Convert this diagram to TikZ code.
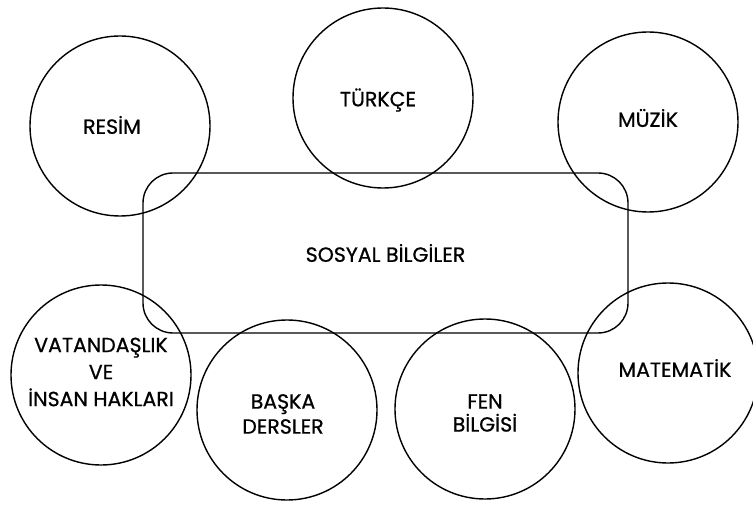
\documentclass[tikz,border=0pt]{standalone}
\usepackage{fontspec}
\setmainfont{Poppins}[FakeBold=0.8]
\begin{document}
\begin{tikzpicture}[x=1pt, y=-1pt, thick,
  ders/.style={circle, draw, line width=1.4pt, minimum size=180pt, inner sep=0pt},
  ana/.style={rounded corners=30pt, draw, line width=1.4pt, minimum width=485pt, minimum height=160pt, font=\fontsize{20.5}{25}\selectfont}]
\useasboundingbox (0,0) rectangle (753,505);
% ortadaki ders
\node[ana] (sosyal) at (385.5,253) {SOSYAL BİLGİLER};
% cevredeki dersler
\node[ders] (resim) at (120,126) {};
\node (resimyazi) at (112,125) [font=\fontsize{20.5}{25}\selectfont] {RESİM};
\node[ders] (turkce) at (383,98) {};
\node (turkceyazi) at (378,100) [font=\fontsize{20.5}{25}\selectfont] {TÜRKÇE};
\node[ders] (muzik) at (648,122) {};
\node (muzikyazi) at (648,118) [font=\fontsize{20.5}{25}\selectfont] {MÜZİK};
\node[ders] (vatandas) at (101,375) {};
\node (vatandasyazi) at (101,372) [align=center, font=\fontsize{20.5}{27}\selectfont] {VATANDAŞLIK\\VE\\İNSAN HAKLARI};
\node[ders] (baska) at (287,410) {};
\node (baskayazi) at (283,414) [align=center, font=\fontsize{20.5}{25}\selectfont] {BAŞKA\\DERSLER};
\node[ders] (fen) at (485,409) {};
\node (fenyazi) at (485,413) [align=center, font=\fontsize{20.5}{23}\selectfont] {FEN\\BİLGİSİ};
\node[ders] (matematik) at (668,373) {};
\node (matematikyazi) at (675,368) [font=\fontsize{20.5}{25}\selectfont] {MATEMATİK};
\end{tikzpicture}
\end{document}
